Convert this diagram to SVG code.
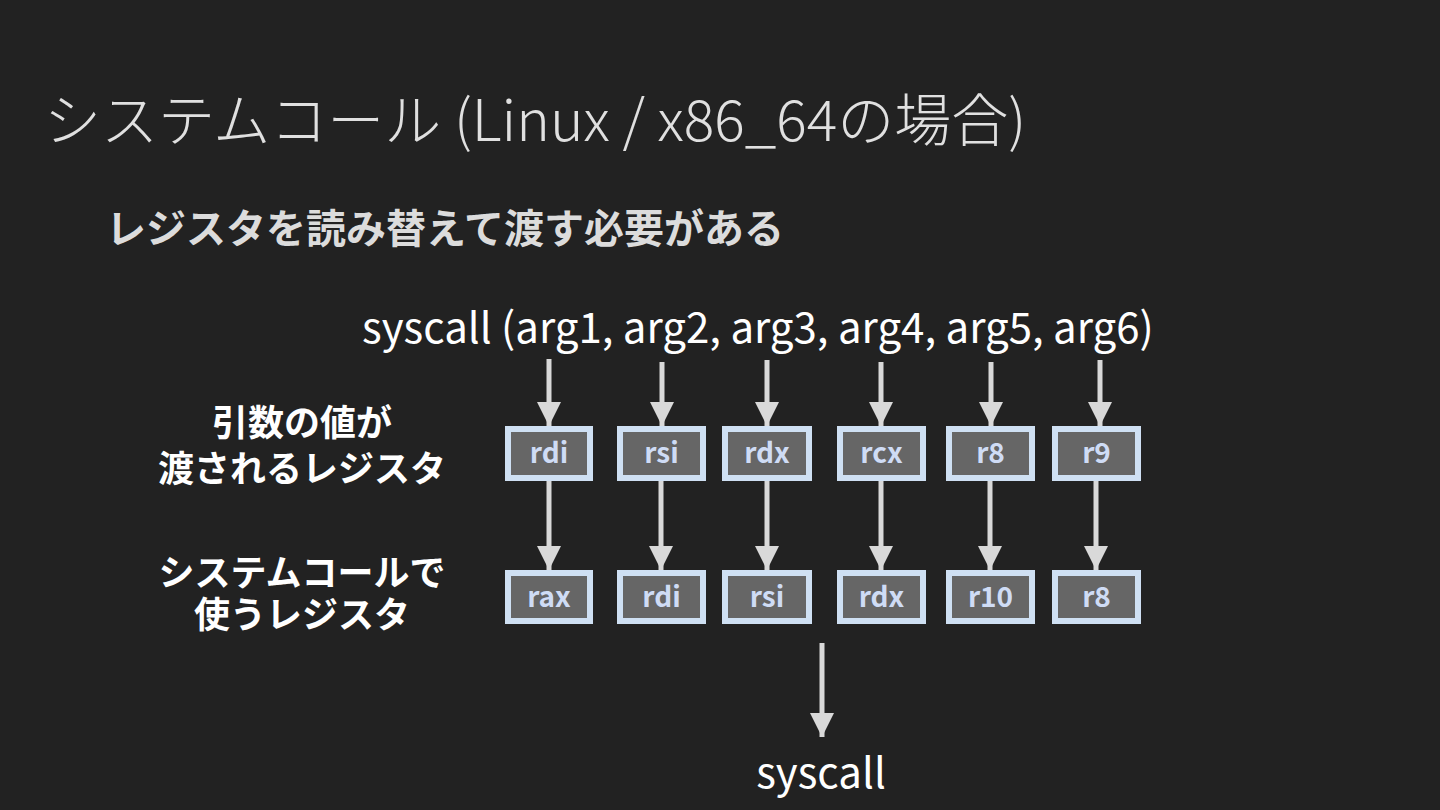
<svg xmlns="http://www.w3.org/2000/svg" width="1440" height="810" viewBox="0 0 1440 810">
<defs>
<marker id="ah" markerUnits="userSpaceOnUse" markerWidth="24" markerHeight="28" refX="24" refY="12" orient="auto">
<path d="M0,0 L24,12 L0,24 Z" fill="#d9d9d9"/>
</marker>
</defs>
<style>
.t{font-family:"Noto Sans CJK JP","Noto Sans",sans-serif;}
.title{font-size:57px;font-weight:300;fill:#e0e0e0;}
.sub{font-size:40px;font-weight:700;fill:#dcdcdc;}
.side{font-size:36px;font-weight:700;fill:#ffffff;text-anchor:middle;}
.call{font-size:42px;font-weight:400;fill:#ffffff;}
.box rect{fill:#666666;stroke:#cfe0f3;stroke-width:6;}
.box text{font-family:"Noto Sans CJK JP","Noto Sans",sans-serif;font-size:28px;font-weight:700;fill:#cfdcf5;text-anchor:middle;}
.conn line{stroke:#d9d9d9;stroke-width:5;marker-end:url(#ah);}
</style>
<rect width="1440" height="810" fill="#222222"/>
<text class="t title" x="44" y="141">システムコール (Linux / x86_64の場合)</text>
<text class="t sub" x="106" y="243">レジスタを読み替えて渡す必要がある</text>
<text class="t call" x="362" y="343">syscall (arg1, arg2, arg3, arg4, arg5, arg6)</text>
<g id="label-args"><text class="t side" x="302" y="436">引数の値が</text><text class="t side" x="302" y="482">渡されるレジスタ</text></g>
<g id="label-sys"><text class="t side" x="302" y="586">システムコールで</text><text class="t side" x="302" y="628">使うレジスタ</text></g>
<g id="top-rdi" class="box"><rect x="508" y="429" width="82" height="49"/><text x="549" y="463">rdi</text></g>
<g id="top-rsi" class="box"><rect x="620" y="429" width="83" height="49"/><text x="661.5" y="463">rsi</text></g>
<g id="top-rdx" class="box"><rect x="725" y="429" width="84" height="49"/><text x="767" y="463">rdx</text></g>
<g id="top-rcx" class="box"><rect x="840" y="429" width="83" height="49"/><text x="881.5" y="463">rcx</text></g>
<g id="top-r8" class="box"><rect x="949" y="429" width="83" height="49"/><text x="990.5" y="463">r8</text></g>
<g id="top-r9" class="box"><rect x="1055" y="429" width="83" height="49"/><text x="1096.5" y="463">r9</text></g>
<g id="bot-rax" class="box"><rect x="508" y="573" width="82" height="48"/><text x="549" y="607">rax</text></g>
<g id="bot-rdi" class="box"><rect x="620" y="573" width="83" height="48"/><text x="661.5" y="607">rdi</text></g>
<g id="bot-rsi" class="box"><rect x="725" y="573" width="84" height="48"/><text x="767" y="607">rsi</text></g>
<g id="bot-rdx" class="box"><rect x="840" y="573" width="83" height="48"/><text x="881.5" y="607">rdx</text></g>
<g id="bot-r10" class="box"><rect x="949" y="573" width="83" height="48"/><text x="990.5" y="607">r10</text></g>
<g id="bot-r8" class="box"><rect x="1055" y="573" width="83" height="48"/><text x="1096.5" y="607">r8</text></g>
<g id="syscall-out"><text class="t call" x="821" y="788" text-anchor="middle">syscall</text></g>
<g class="conn">
<line x1="549" y1="359" x2="549" y2="426"/>
<line x1="662" y1="362" x2="662" y2="426"/>
<line x1="767" y1="360" x2="767" y2="426"/>
<line x1="881" y1="362" x2="881" y2="426"/>
<line x1="991" y1="362" x2="991" y2="426"/>
<line x1="1100" y1="360" x2="1100" y2="426"/>
<line x1="549" y1="481" x2="549" y2="570"/>
<line x1="661" y1="481" x2="661" y2="570"/>
<line x1="767" y1="481" x2="767" y2="570"/>
<line x1="881" y1="481" x2="881" y2="570"/>
<line x1="990" y1="481" x2="990" y2="570"/>
<line x1="1096" y1="481" x2="1096" y2="570"/>
<line x1="822" y1="643" x2="822" y2="737"/>
</g>
</svg>
